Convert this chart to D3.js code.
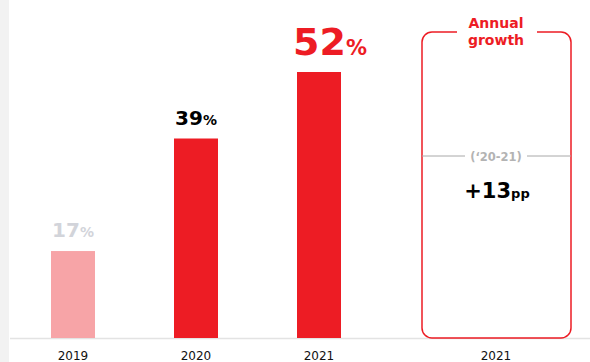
<!DOCTYPE html>
<html><head><meta charset="utf-8">
<script src="https://cdn.jsdelivr.net/npm/d3@7"></script>
<style>html,body{margin:0;padding:0;background:#fff;}svg{display:block;font-family:"DejaVu Sans",Verdana,sans-serif;}</style>
</head><body><svg id="c" width="590" height="362"></svg>
<script>
const years = ["2019", "2020", "2021"];
const values = [17, 39, 52];
const barColors = ["#F7A4A7", "#ED1C24", "#ED1C24"];
const labelColors = ["#D2D4DA", "#000000", "#ED1C24"];
const growthYear = "2021";
const growthTitle = ["Annual", "growth"];
const growthPeriod = "(‘20-21)";
const growthValue = "+13";
const growthUnit = "pp";

const svg = d3.select("#c");
const baseY = 338;
svg.append("rect").attr("x",0).attr("y",0).attr("width",9).attr("height",362).attr("fill","#F2F2F2");

const x = d3.scalePoint().domain(years).range([73, 319]);
const y = d3.scaleLinear().domain([0, 52]).range([baseY, 72]);
const bw = 44;

// axis line
svg.append("line").attr("x1",10).attr("x2",590).attr("y1",baseY+0.5).attr("y2",baseY+0.5)
  .attr("stroke","#E3E3E3").attr("stroke-width",1.5);

const data = years.map((d,i)=>({year:d, v:values[i], c:barColors[i], lc:labelColors[i], big:i===2}));

svg.selectAll("rect.bar").data(data).join("rect").attr("class","bar")
  .attr("x", d=>x(d.year)-bw/2).attr("width", bw)
  .attr("y", d=>y(d.v)).attr("height", d=>baseY - y(d.v))
  .attr("fill", d=>d.c);

const lab = svg.selectAll("text.val").data(data).join("text").attr("class","val")
  .attr("x", d=> d.big ? x(d.year)+11 : x(d.year))
  .attr("y", d=> y(d.v) - (d.big ? 17 : 14))
  .attr("text-anchor","middle").attr("font-weight","bold").attr("fill", d=>d.lc);
lab.append("tspan").attr("font-size", d=>d.big?38:20).text(d=>d.v);
lab.append("tspan").attr("font-size", d=>d.big?21:14).text("%");

// category labels
const cats = years.concat([growthYear]);
const catX = years.map(d=>x(d)).concat([496]);
svg.selectAll("text.cat").data(cats).join("text").attr("class","cat")
  .attr("x",(d,i)=>catX[i]).attr("y",360).attr("text-anchor","middle")
  .attr("font-size",12).attr("fill","#111").text(d=>d);

// growth box
const bx0 = 422, bx1 = 571, by0 = 32, by1 = baseY, r = 10, g0 = 457, g1 = 537;
const p = d3.path();
p.moveTo(g1, by0);
p.lineTo(bx1 - r, by0);
p.arcTo(bx1, by0, bx1, by0 + r, r);
p.lineTo(bx1, by1 - r);
p.arcTo(bx1, by1, bx1 - r, by1, r);
p.lineTo(bx0 + r, by1);
p.arcTo(bx0, by1, bx0, by1 - r, r);
p.lineTo(bx0, by0 + r);
p.arcTo(bx0, by0, bx0 + r, by0, r);
p.lineTo(g0, by0);
svg.append("path").attr("d", p.toString()).attr("fill","none").attr("stroke","#ED1C24").attr("stroke-width",1.5);

svg.selectAll("text.gt").data(growthTitle).join("text").attr("class","gt")
  .attr("x",496).attr("y",(d,i)=>28+i*17).attr("text-anchor","middle")
  .attr("font-size",14).attr("font-weight","bold").attr("fill","#ED1C24").text(d=>d);

svg.append("line").attr("x1",bx0).attr("x2",465).attr("y1",156).attr("y2",156).attr("stroke","#A8A8A8").attr("stroke-width",1);
svg.append("line").attr("x1",527).attr("x2",bx1).attr("y1",156).attr("y2",156).attr("stroke","#A8A8A8").attr("stroke-width",1);
svg.append("text").attr("x",496).attr("y",161).attr("text-anchor","middle").attr("font-size",11.5)
  .attr("font-weight","bold").attr("fill","#B3B3B3").text(growthPeriod);

const gv = svg.append("text").attr("x",497).attr("y",198).attr("text-anchor","middle").attr("font-weight","bold").attr("fill","#000");
gv.append("tspan").attr("font-size",21).text(growthValue);
gv.append("tspan").attr("font-size",13).text(growthUnit);
</script></body></html>
